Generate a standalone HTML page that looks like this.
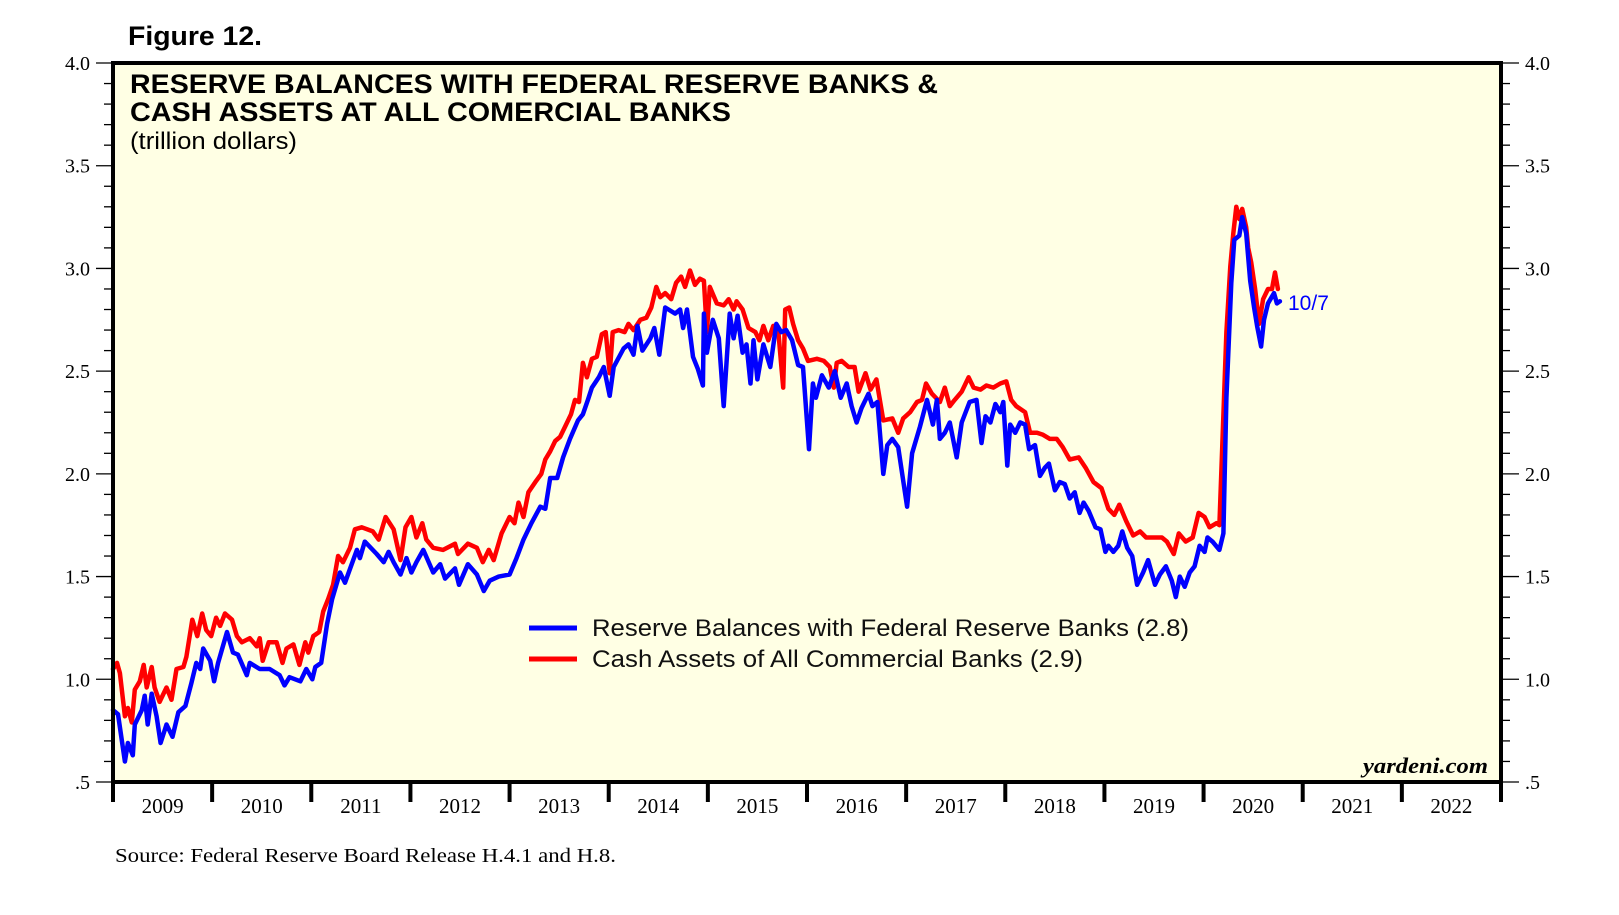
<!DOCTYPE html>
<html><head><meta charset="utf-8">
<style>
html,body{margin:0;padding:0;background:#fff;}
svg{display:block;}
.ser{font-family:"Liberation Serif",serif;}
.sans{font-family:"Liberation Sans",sans-serif;}
</style></head>
<body>
<svg id="chart" width="1619" height="915" viewBox="0 0 1619 915" xmlns="http://www.w3.org/2000/svg">
<rect x="113" y="63" width="1388" height="719" fill="#FFFFE4"/>
<text x="128" y="45" class="sans" font-size="27" font-weight="bold" textLength="134" lengthAdjust="spacingAndGlyphs">Figure 12.</text>
<text x="130" y="93" class="sans" font-size="27" font-weight="bold" textLength="808" lengthAdjust="spacingAndGlyphs">RESERVE BALANCES WITH FEDERAL RESERVE BANKS &amp;</text>
<text x="130" y="121" class="sans" font-size="27" font-weight="bold" textLength="601" lengthAdjust="spacingAndGlyphs">CASH ASSETS AT ALL COMERCIAL BANKS</text>
<text x="130" y="149" class="sans" font-size="24" textLength="167" lengthAdjust="spacingAndGlyphs">(trillion dollars)</text>
<g id="axes"></g>
<g id="series"></g>
<line x1="529" y1="628" x2="577" y2="628" stroke="#0000FF" stroke-width="5"/>
<text x="592" y="636" class="sans" font-size="24" fill="#111" textLength="597" lengthAdjust="spacingAndGlyphs">Reserve Balances with Federal Reserve Banks (2.8)</text>
<line x1="529" y1="659" x2="577" y2="659" stroke="#FF0000" stroke-width="5"/>
<text x="592" y="667" class="sans" font-size="24" fill="#111" textLength="491" lengthAdjust="spacingAndGlyphs">Cash Assets of All Commercial Banks (2.9)</text>
<text x="1288" y="310" class="sans" font-size="21" fill="#0000FF">10/7</text>
<text x="1488" y="773" class="ser" font-size="22" font-style="italic" font-weight="bold" text-anchor="end" textLength="125" lengthAdjust="spacingAndGlyphs">yardeni.com</text>
<text x="115" y="862" class="ser" font-size="20" textLength="501" lengthAdjust="spacingAndGlyphs">Source: Federal Reserve Board Release H.4.1 and H.8.</text>
<rect x="113" y="63" width="1388" height="719" fill="none" stroke="#000" stroke-width="4"/>
</svg>
<script>
const yTickValues=[0.5,1.0,1.5,2.0,2.5,3.0,3.5,4.0];
const yTickLabels=[".5","1.0","1.5","2.0","2.5","3.0","3.5","4.0"];
const years=[2009,2010,2011,2012,2013,2014,2015,2016,2017,2018,2019,2020,2021,2022];
const reserveDates=[2009.00,2009.05,2009.12,2009.15,2009.20,2009.22,2009.29,2009.32,2009.35,2009.39,2009.44,2009.48,2009.54,2009.60,2009.66,2009.73,2009.79,2009.84,2009.88,2009.91,2009.98,2010.02,2010.06,2010.15,2010.21,2010.26,2010.35,2010.38,2010.48,2010.58,2010.68,2010.73,2010.78,2010.89,2010.95,2011.01,2011.04,2011.10,2011.16,2011.21,2011.29,2011.34,2011.46,2011.49,2011.54,2011.66,2011.73,2011.78,2011.83,2011.90,2011.96,2012.01,2012.06,2012.13,2012.23,2012.30,2012.35,2012.45,2012.49,2012.58,2012.67,2012.74,2012.80,2012.89,2013.00,2013.07,2013.14,2013.22,2013.31,2013.36,2013.41,2013.48,2013.54,2013.61,2013.69,2013.74,2013.79,2013.83,2013.90,2013.95,2014.01,2014.05,2014.15,2014.20,2014.25,2014.29,2014.34,2014.42,2014.46,2014.51,2014.57,2014.67,2014.72,2014.75,2014.79,2014.85,2014.90,2014.95,2014.96,2014.99,2015.05,2015.11,2015.16,2015.22,2015.26,2015.30,2015.35,2015.39,2015.43,2015.46,2015.50,2015.56,2015.63,2015.69,2015.74,2015.79,2015.85,2015.91,2015.96,2016.02,2016.06,2016.09,2016.15,2016.22,2016.28,2016.34,2016.40,2016.45,2016.50,2016.55,2016.62,2016.66,2016.71,2016.77,2016.81,2016.86,2016.92,2017.01,2017.06,2017.14,2017.21,2017.27,2017.31,2017.34,2017.39,2017.44,2017.51,2017.56,2017.64,2017.71,2017.76,2017.80,2017.85,2017.90,2017.95,2017.98,2018.02,2018.05,2018.10,2018.15,2018.20,2018.24,2018.30,2018.35,2018.40,2018.44,2018.50,2018.55,2018.60,2018.65,2018.70,2018.75,2018.79,2018.84,2018.91,2018.96,2019.01,2019.04,2019.09,2019.14,2019.18,2019.23,2019.28,2019.33,2019.39,2019.44,2019.51,2019.56,2019.62,2019.68,2019.72,2019.76,2019.81,2019.86,2019.91,2019.96,2020.01,2020.04,2020.09,2020.16,2020.20,2020.23,2020.28,2020.31,2020.36,2020.39,2020.43,2020.47,2020.51,2020.54,2020.58,2020.61,2020.65,2020.71,2020.74,2020.77];
const reserveValues=[0.85,0.83,0.60,0.69,0.63,0.78,0.85,0.92,0.78,0.93,0.82,0.69,0.78,0.72,0.84,0.87,0.98,1.08,1.05,1.15,1.09,0.99,1.08,1.23,1.13,1.12,1.02,1.08,1.05,1.05,1.02,0.97,1.01,0.99,1.05,1.00,1.06,1.08,1.27,1.39,1.52,1.47,1.63,1.59,1.67,1.61,1.57,1.62,1.57,1.51,1.59,1.52,1.57,1.63,1.52,1.56,1.49,1.54,1.46,1.56,1.51,1.43,1.48,1.50,1.51,1.59,1.68,1.76,1.84,1.83,1.98,1.98,2.08,2.17,2.26,2.29,2.36,2.42,2.47,2.52,2.38,2.52,2.61,2.63,2.58,2.72,2.60,2.66,2.71,2.58,2.81,2.78,2.80,2.71,2.80,2.57,2.51,2.43,2.78,2.59,2.75,2.66,2.33,2.78,2.66,2.77,2.59,2.63,2.44,2.65,2.46,2.63,2.52,2.73,2.69,2.70,2.65,2.53,2.52,2.12,2.44,2.37,2.48,2.42,2.50,2.37,2.44,2.33,2.25,2.32,2.39,2.33,2.35,2.00,2.14,2.17,2.13,1.84,2.10,2.23,2.36,2.24,2.36,2.17,2.20,2.25,2.08,2.25,2.35,2.36,2.15,2.28,2.25,2.34,2.30,2.35,2.04,2.24,2.20,2.25,2.24,2.12,2.14,1.99,2.03,2.05,1.92,1.96,1.95,1.88,1.91,1.81,1.86,1.82,1.74,1.73,1.62,1.65,1.62,1.65,1.72,1.64,1.60,1.46,1.52,1.58,1.46,1.51,1.55,1.48,1.40,1.50,1.45,1.52,1.55,1.65,1.62,1.69,1.67,1.63,1.71,2.37,2.93,3.14,3.16,3.25,3.17,2.94,2.81,2.72,2.62,2.75,2.83,2.88,2.83,2.84];
const cashDates=[2009.00,2009.04,2009.07,2009.12,2009.15,2009.19,2009.22,2009.27,2009.31,2009.34,2009.39,2009.42,2009.47,2009.54,2009.59,2009.64,2009.71,2009.74,2009.80,2009.85,2009.90,2009.94,2009.99,2010.04,2010.08,2010.13,2010.20,2010.25,2010.30,2010.38,2010.45,2010.48,2010.51,2010.57,2010.65,2010.71,2010.75,2010.82,2010.88,2010.94,2010.97,2011.02,2011.08,2011.12,2011.17,2011.22,2011.27,2011.32,2011.39,2011.44,2011.51,2011.62,2011.68,2011.75,2011.83,2011.90,2011.95,2012.01,2012.06,2012.12,2012.16,2012.23,2012.33,2012.45,2012.48,2012.58,2012.67,2012.73,2012.79,2012.84,2012.92,2013.00,2013.05,2013.09,2013.14,2013.19,2013.26,2013.32,2013.36,2013.41,2013.46,2013.51,2013.56,2013.62,2013.66,2013.70,2013.74,2013.78,2013.83,2013.88,2013.93,2013.97,2014.01,2014.04,2014.10,2014.16,2014.20,2014.25,2014.32,2014.38,2014.43,2014.48,2014.52,2014.57,2014.63,2014.68,2014.73,2014.77,2014.82,2014.87,2014.92,2014.96,2014.99,2015.02,2015.09,2015.16,2015.21,2015.26,2015.29,2015.35,2015.41,2015.48,2015.52,2015.56,2015.61,2015.66,2015.71,2015.76,2015.78,2015.82,2015.86,2015.91,2015.96,2016.01,2016.10,2016.17,2016.23,2016.27,2016.30,2016.35,2016.42,2016.48,2016.52,2016.59,2016.64,2016.70,2016.77,2016.86,2016.92,2016.97,2017.04,2017.11,2017.16,2017.20,2017.26,2017.34,2017.39,2017.44,2017.49,2017.56,2017.63,2017.68,2017.75,2017.81,2017.88,2017.95,2018.01,2018.06,2018.11,2018.20,2018.25,2018.32,2018.38,2018.45,2018.52,2018.58,2018.65,2018.74,2018.81,2018.89,2018.97,2019.04,2019.10,2019.15,2019.22,2019.29,2019.36,2019.42,2019.49,2019.58,2019.63,2019.70,2019.75,2019.82,2019.89,2019.95,2020.01,2020.06,2020.13,2020.16,2020.23,2020.27,2020.30,2020.33,2020.36,2020.39,2020.43,2020.45,2020.48,2020.52,2020.56,2020.60,2020.65,2020.69,2020.72,2020.75];
const cashValues=[1.05,1.08,1.03,0.82,0.86,0.79,0.95,0.99,1.07,0.96,1.06,0.96,0.89,0.96,0.90,1.05,1.06,1.11,1.29,1.21,1.32,1.24,1.21,1.30,1.26,1.32,1.29,1.21,1.18,1.20,1.16,1.20,1.09,1.18,1.18,1.08,1.15,1.17,1.07,1.18,1.13,1.21,1.23,1.33,1.39,1.46,1.60,1.57,1.64,1.73,1.74,1.72,1.68,1.79,1.73,1.58,1.74,1.79,1.69,1.76,1.68,1.64,1.63,1.66,1.61,1.66,1.64,1.57,1.63,1.58,1.71,1.79,1.76,1.86,1.79,1.91,1.96,2.00,2.07,2.11,2.16,2.18,2.23,2.29,2.36,2.35,2.54,2.47,2.56,2.57,2.68,2.69,2.49,2.69,2.70,2.69,2.73,2.70,2.75,2.76,2.81,2.91,2.86,2.88,2.85,2.93,2.96,2.91,2.99,2.92,2.95,2.94,2.69,2.91,2.83,2.82,2.85,2.80,2.84,2.80,2.71,2.69,2.65,2.72,2.65,2.72,2.70,2.42,2.80,2.81,2.73,2.65,2.61,2.55,2.56,2.55,2.52,2.42,2.54,2.55,2.52,2.52,2.40,2.49,2.41,2.46,2.26,2.27,2.20,2.27,2.30,2.35,2.36,2.44,2.39,2.35,2.42,2.33,2.36,2.40,2.47,2.42,2.41,2.43,2.42,2.44,2.45,2.36,2.33,2.30,2.20,2.20,2.19,2.17,2.17,2.13,2.07,2.08,2.03,1.96,1.93,1.83,1.80,1.85,1.77,1.70,1.72,1.69,1.69,1.69,1.67,1.61,1.71,1.67,1.69,1.81,1.79,1.74,1.76,1.75,2.69,3.01,3.17,3.30,3.24,3.29,3.20,3.10,3.03,2.90,2.73,2.85,2.90,2.90,2.98,2.90];

const X0=113,X1=1501,Y0=782,Y1=63;
const NS='http://www.w3.org/2000/svg';
function xScale(yr){return X0+(yr-2009)*(X1-X0)/14;}
function yScale(v){return Y0-(v-0.5)*(Y0-Y1)/3.5;}
function mk(tag,attrs,parent){const e=document.createElementNS(NS,tag);for(const k in attrs)e.setAttribute(k,attrs[k]);parent.appendChild(e);return e;}
const axes=document.getElementById('axes');
for(let i=0;i<=35;i++){
  const v=0.5+i*0.1, y=yScale(v);
  const major=(i%5===0);
  const tl=mk('line',{x1:major?96:104,y1:y,x2:113,y2:y,stroke:'#000','stroke-width':1.3},axes);
  
  
  const tr=mk('line',{x1:1501,y1:y,x2:major?1519:1510,y2:y,stroke:'#000','stroke-width':1.3},axes);
  
  
}
yTickValues.forEach((v,i)=>{
  const y=yScale(v);
  const l=mk('text',{x:90,y:y+7,'text-anchor':'end','font-size':20,class:'ser'},axes);
  l.textContent=yTickLabels[i];
  
  
  const r=mk('text',{x:1525,y:y+7,'font-size':20,class:'ser'},axes);
  r.textContent=yTickLabels[i];
  
  
});
for(let i=0;i<=years.length;i++){
  const x=xScale(2009+i);
  const t=mk('line',{x1:x,y1:782,x2:x,y2:802,stroke:'#000','stroke-width':4},axes);
  
  
}
years.forEach(yr=>{
  const t=mk('text',{x:xScale(yr+0.5),y:813,'text-anchor':'middle','font-size':21,class:'ser'},axes);
  t.textContent=String(yr);
  
  
});
const series=document.getElementById('series');
function line(dates,vals,color,name){
  const d=dates.map((t,i)=>(i?'L':'M')+xScale(t).toFixed(1)+','+yScale(vals[i]).toFixed(1)).join('');
  const p=mk('path',{d:d,fill:'none',stroke:color,'stroke-width':4.5,'stroke-linejoin':'round','stroke-linecap':'round'},series);
  
  
}
line(cashDates,cashValues,'#FF0000','cash-assets-line');
line(reserveDates,reserveValues,'#0000FF','reserve-balances-line');
</script>
</body></html>
